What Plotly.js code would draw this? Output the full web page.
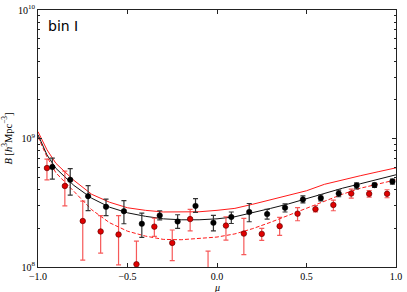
<!DOCTYPE html>
<html>
<head>
<meta charset="utf-8">
<script src="https://cdn.plot.ly/plotly-3.0.1.min.js"></script>
<style>
html,body{margin:0;padding:0;background:#fff;}
#chart{width:407px;height:292px;}
</style>
</head>
<body>
<div id="chart"></div>
<script>
// ---- data ----
var muBlack = [-0.92,-0.82,-0.72,-0.62,-0.52,-0.42,-0.32,-0.22,-0.12,-0.02,0.08,0.18,0.28,0.38,0.48,0.58,0.68,0.78,0.88,0.98];
var blackB  = [5.99e8,4.77e8,3.56e8,2.94e8,2.72e8,2.17e8,2.52e8,2.26e8,2.99e8,2.21e8,2.45e8,2.68e8,2.58e8,2.89e8,3.35e8,3.44e8,3.73e8,4.30e8,4.34e8,4.63e8];
var blackHi = [7.03e8,5.83e8,4.30e8,3.38e8,3.29e8,2.63e8,2.74e8,2.55e8,3.40e8,2.52e8,2.68e8,3.12e8,2.81e8,3.10e8,3.58e8,3.65e8,3.97e8,4.52e8,4.50e8,4.83e8];
var blackLo = [4.83e8,3.63e8,2.75e8,2.51e8,2.17e8,1.70e8,2.33e8,2.00e8,2.66e8,1.91e8,2.18e8,2.25e8,2.36e8,2.68e8,3.16e8,3.27e8,3.52e8,4.06e8,4.16e8,4.42e8];

var muRed = [-0.95,-0.85,-0.75,-0.65,-0.55,-0.45,-0.35,-0.25,-0.15,-0.05,0.05,0.15,0.25,0.35,0.45,0.55,0.65,0.75,0.85,0.95];
var redB  = [5.89e8,4.27e8,2.28e8,1.89e8,1.79e8,1.05e8,2.06e8,1.54e8,2.36e8,0.90e8,2.10e8,1.82e8,1.81e8,2.08e8,2.60e8,2.82e8,3.04e8,3.73e8,3.71e8,3.71e8];
var redHi = [6.91e8,5.57e8,3.26e8,2.51e8,2.51e8,1.59e8,2.40e8,1.94e8,2.81e8,1.33e8,2.46e8,2.39e8,2.00e8,2.43e8,2.90e8,3.01e8,3.32e8,4.04e8,3.94e8,3.99e8];
var redLo = [4.77e8,2.99e8,1.13e8,1.28e8,1.04e8,0.70e8,1.73e8,1.12e8,1.91e8,0.50e8,1.62e8,1.25e8,1.61e8,1.76e8,2.29e8,2.68e8,2.74e8,3.44e8,3.50e8,3.46e8];

var muModel   = [-1.0,-0.95,-0.9,-0.8,-0.7,-0.6,-0.5,-0.4,-0.3,-0.2,-0.1,0.0,0.1,0.2,0.3,0.4,0.5,0.6,0.7,0.8,0.9,1.0];
var modelBlack = [1.07e9,7.46e8,5.86e8,4.32e8,3.43e8,2.92e8,2.64e8,2.48e8,2.37e8,2.33e8,2.33e8,2.37e8,2.46e8,2.64e8,2.86e8,3.10e8,3.40e8,3.75e8,4.10e8,4.44e8,4.81e8,5.22e8];
var modelRed   = [1.13e9,8.17e8,6.41e8,4.73e8,3.68e8,3.19e8,2.89e8,2.76e8,2.68e8,2.67e8,2.69e8,2.76e8,2.86e8,3.08e8,3.34e8,3.61e8,3.92e8,4.40e8,4.77e8,5.13e8,5.51e8,5.91e8];
var modelRedDash = [1.03e9,7.20e8,5.41e8,3.85e8,2.79e8,2.21e8,1.90e8,1.74e8,1.64e8,1.63e8,1.66e8,1.71e8,1.81e8,1.99e8,2.23e8,2.53e8,2.89e8,3.28e8,3.68e8,4.10e8,4.44e8,4.77e8];

var yTickVals = [1e8,1e9,1e10];
var yTickText = ['10<sup>8</sup>','10<sup>9</sup>','10<sup>10</sup>'];
var xTickVals = [-1.0,-0.5,0.0,0.5,1.0];
var xTickText = ['\u22121.0','\u22120.5','0.0','0.5','1.0'];
var binLabel = 'bin I';
var xLabel = '<i>\u03bc</i>';

function diff(a,b,sign){ return a.map(function(v,i){ return sign>0 ? b[i]-v : v-b[i]; }); }

var minorVals = [];
[1e8,1e9].forEach(function(d){ for (var k=2;k<=9;k++) minorVals.push(k*d); });

var traces = [
  {x: muModel, y: modelRedDash, mode:'lines', line:{color:'#ff1a1a', width:1.0, dash:'4px,2px'}, hoverinfo:'skip'},
  {x: muModel, y: modelBlack, mode:'lines', line:{color:'#111', width:1.0}, hoverinfo:'skip'},
  {x: muModel, y: modelRed, mode:'lines', line:{color:'#ff1a1a', width:1.0}, hoverinfo:'skip'},
  {x: muRed, y: redB, mode:'markers',
   marker:{color:'#e00000', size:5.5, line:{color:'#600', width:0.7}},
   error_y:{type:'data', symmetric:false, array: diff(redB, redHi, 1), arrayminus: diff(redB, redLo, -1),
            color:'rgba(245,60,60,0.85)', thickness:1.2, width:2.5}},
  {x: muBlack, y: blackB, mode:'markers',
   marker:{color:'#000', size:5.5, line:{color:'#000', width:0.5}},
   error_y:{type:'data', symmetric:false, array: diff(blackB, blackHi, 1), arrayminus: diff(blackB, blackLo, -1),
            color:'#333', thickness:1.2, width:2.5}}
];

var layout = {
  width:407, height:292,
  margin:{l:38, r:11, t:10, b:25},
  paper_bgcolor:'#fff', plot_bgcolor:'#fff',
  showlegend:false,
  font:{family:'"Liberation Serif", "DejaVu Serif", serif', size:10, color:'#000'},
  xaxis:{
    range:[-1,1], showgrid:false, zeroline:false,
    showline:true, linecolor:'#222', linewidth:1, mirror:'allticks',
    ticks:'inside', ticklen:4, tickcolor:'#222', tickwidth:1,
    tickmode:'array', tickvals:xTickVals, ticktext:xTickText,
    tickfont:{size:10}
  },
  yaxis:{
    type:'log', range:[8,10], showgrid:false, zeroline:false,
    showline:true, linecolor:'#222', linewidth:1, mirror:'allticks',
    ticks:'inside', ticklen:4, tickcolor:'#222', tickwidth:1,
    tickmode:'array', tickvals:yTickVals, ticktext:yTickText,
    tickfont:{size:10},
    minor:{tickmode:'array', tickvals:minorVals, ticks:'inside', ticklen:2, tickcolor:'#222', tickwidth:1},
    title:{text:'<i>B</i> [<i>h</i><sup>3</sup>Mpc<sup>\u22123</sup>]', font:{size:10.5}, standoff:3}
  },
  annotations:[{
    text: binLabel, xref:'paper', yref:'paper', x:0.022, y:0.975, xanchor:'left', yanchor:'top',
    showarrow:false, font:{family:'"DejaVu Sans", sans-serif', size:14, color:'#000'}
  },{
    text: xLabel, xref:'paper', yref:'paper', x:0.5, y:-0.078, xanchor:'center', yanchor:'middle',
    showarrow:false, font:{size:10, color:'#000'}, borderpad:0
  }]
};

Plotly.newPlot('chart', traces, layout, {staticPlot:true, displayModeBar:false});
</script>
</body>
</html>
